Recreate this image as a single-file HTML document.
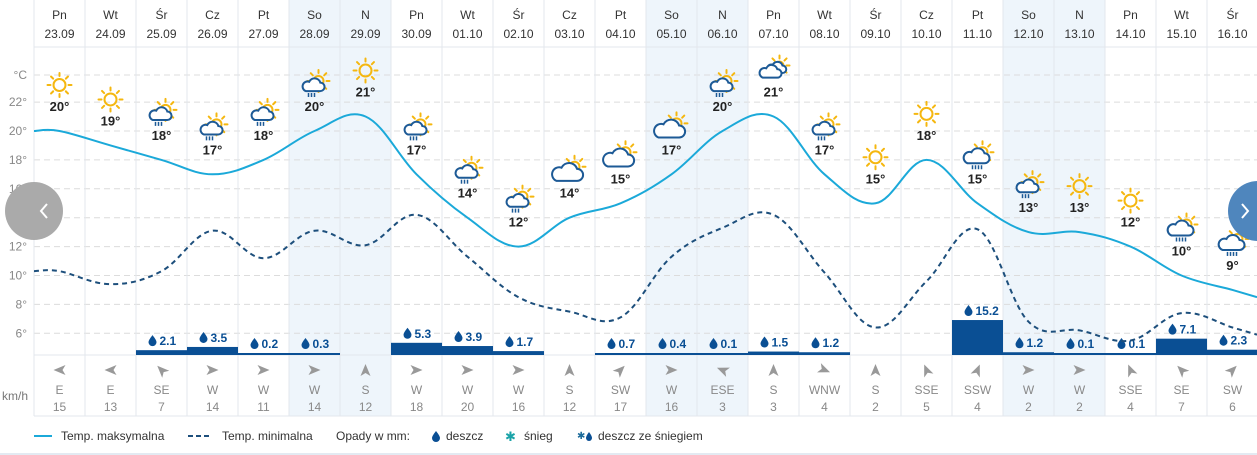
<!DOCTYPE html>
<html><head><meta charset="utf-8">
<style>
html,body{margin:0;padding:0;background:#fff;width:1257px;height:455px;overflow:hidden;font-family:"Liberation Sans",sans-serif;}
svg{display:block}
</style></head>
<body>
<svg id="chart" width="1257" height="455" xmlns="http://www.w3.org/2000/svg" font-family="Liberation Sans, sans-serif"></svg>
<script>
const dayNames=["Pn","Wt","Śr","Cz","Pt","So","N","Pn","Wt","Śr","Cz","Pt","So","N","Pn","Wt","Śr","Cz","Pt","So","N","Pn","Wt","Śr"];
const dates=["23.09","24.09","25.09","26.09","27.09","28.09","29.09","30.09","01.10","02.10","03.10","04.10","05.10","06.10","07.10","08.10","09.10","10.10","11.10","12.10","13.10","14.10","15.10","16.10"];
const maxTemps=[20,19,18,17,18,20,21,17,14,12,14,15,17,20,21,17,15,18,15,13,13,12,10,9];
const minTemps=[10.3,9.4,10.3,13.1,11.2,13.1,12.1,14.2,11.3,8.5,7.5,7.1,11.3,13.3,14.2,10.2,6.4,9.6,13.2,6.8,6.2,5.5,7.4,6.4];
const precip=[0,0,2.1,3.5,0.2,0.3,0,5.3,3.9,1.7,0,0.7,0.4,0.1,1.5,1.2,0,0,15.2,1.2,0.1,0.1,7.1,2.3];
const windDir=["E","E","SE","W","W","W","S","W","W","W","S","SW","W","ESE","S","WNW","S","SSE","SSW","W","W","SSE","SE","SW"];
const windSpeed=[15,13,7,14,11,14,12,18,20,16,12,17,16,3,3,4,2,5,4,2,2,4,7,6];
const icons=["sun","sun","rainsun","rainsun","rainsun","rainsun","sun","rainsun","rainsun","rainsun","cloudsun","cloudsun","cloudsun","rainsun","cloudssun","rainsun","sun","sun","heavysun","rainsun","sun","sun","heavysun","heavysun"];
const yTicks=[22,20,18,16,14,12,10,8,6];
const weekend=[5,6,12,13,19,20];

const NS="http://www.w3.org/2000/svg";
const svg=document.getElementById('chart');
const X0=34,STEP=51;
const cx=i=>X0+STEP*i+25.5;
const yT=t=>131-(t-20)*14.45;
const BASE=355;
function el(tag,attrs,parent){const e=document.createElementNS(NS,tag);for(const k in attrs)e.setAttribute(k,attrs[k]);(parent||svg).appendChild(e);return e;}
function txt(s,attrs,parent){const e=el('text',attrs,parent);e.textContent=s;return e;}

weekend.forEach(i=>{const r=el('rect',{x:X0+STEP*i,y:0,width:STEP,height:416,fill:'#eef5fb'});

});
yTicks.concat([24]).forEach(t=>{const y=t===24?75:yT(t);const l=el('line',{x1:X0,x2:1257,y1:y,y2:y,stroke:'#dcdcdc','stroke-dasharray':'6 4'});

});
yTicks.forEach(t=>{const e=txt(t+'°',{x:27,y:yT(t)+4,'text-anchor':'end','font-size':12,fill:'#888'});

});
const cu=txt('°C',{x:27,y:79,'text-anchor':'end','font-size':12,fill:'#888'});


for(let i=0;i<=24;i++){const l=el('line',{x1:X0+STEP*i,x2:X0+STEP*i,y1:0,y2:416,stroke:'#e3e7ec'});

}
el('line',{x1:X0,x2:1257,y1:47,y2:47,stroke:'#e3e7ec'});
el('line',{x1:X0,x2:1257,y1:355,y2:355,stroke:'#e3e7ec'});
el('line',{x1:X0,x2:1257,y1:416,y2:416,stroke:'#e3e7ec'});
dayNames.forEach((d,i)=>{
 const a=txt(d,{x:cx(i),y:19,'text-anchor':'middle','font-size':12,fill:'#333'});
 
 
 const b=txt(dates[i],{x:cx(i),y:38,'text-anchor':'middle','font-size':12,fill:'#333'});
 
 
});
function smooth(pts){let d='M'+pts[0][0]+','+pts[0][1];for(let i=0;i<pts.length-1;i++){const p0=pts[i-1]||pts[i],p1=pts[i],p2=pts[i+1],p3=pts[i+2]||p2;const t=0.18;
 const c1=[p1[0]+(p2[0]-p0[0])*t,p1[1]+(p2[1]-p0[1])*t],c2=[p2[0]-(p3[0]-p1[0])*t,p2[1]-(p3[1]-p1[1])*t];
 d+=' C'+c1[0].toFixed(1)+','+c1[1].toFixed(1)+' '+c2[0].toFixed(1)+','+c2[1].toFixed(1)+' '+p2[0].toFixed(1)+','+p2[1].toFixed(1);}return d;}
function series(arr){const p=arr.map((v,i)=>[cx(i),yT(v)]);p.unshift([X0,yT(arr[0])]);p.push([1257,yT(arr[arr.length-1]+(arr[arr.length-1]-arr[arr.length-2])*0.5)]);return p;}
precip.forEach((v,i)=>{if(!v)return;const h=Math.max(2,v*2.3);
 const r=el('rect',{x:X0+STEP*i,y:BASE-h,width:STEP,height:h,fill:'#0a4f94'});
 
 
 const g=el('g',{});
 
 
 const ty=BASE-h-5;
 el('path',{d:`M${cx(i)-9},${ty-10} q-4,5 -4,7 a4,4 0 0 0 8,0 q0,-2 -4,-7z`,fill:'#0a4f94'},g);
 txt(v.toFixed(1),{x:cx(i)-2,y:ty,'font-size':12,'font-weight':'bold',fill:'#0a4f94'},g);
});
const minP=el('path',{d:smooth(series(minTemps)),fill:'none',stroke:'#1d4f7c','stroke-width':2,'stroke-dasharray':'5 4'});


const maxP=el('path',{d:smooth(series(maxTemps)),fill:'none',stroke:'#1ba9d9','stroke-width':2});


function sun(g,x,y,r){const c='#f5b70f';el('circle',{cx:x,cy:y,r:r,fill:'none',stroke:c,'stroke-width':2},g);
 for(let k=0;k<8;k++){const a=k*Math.PI/4;el('line',{x1:x+Math.cos(a)*(r+3),y1:y+Math.sin(a)*(r+3),x2:x+Math.cos(a)*(r+6),y2:y+Math.sin(a)*(r+6),stroke:c,'stroke-width':2,'stroke-linecap':'round'},g);}}
function cloud(g,x,y,s){const cg=el('g',{transform:`translate(${x},${y}) scale(${s})`},g);
 el('path',{d:'M-9,6 H8 a5,5 0 0 0 0,-10 a7,7 0 0 0 -13,-1 a5.5,5.5 0 0 0 -4,11 z',fill:'#fff',stroke:'#1d5a96','stroke-width':2/s},cg);}
function drops(g,x,y,n){for(let k=0;k<n;k++)el('line',{x1:x-4+k*3,y1:y,x2:x-4+k*3,y2:y+4,stroke:'#1d5a96','stroke-width':1.5},g);}
icons.forEach((t,i)=>{const x=cx(i),yc=yT(maxTemps[i]);const iy=yc-46;
 const g=el('g',{});
 
 
 if(t==='sun')sun(g,x,iy,6);
 else if(t==='rainsun'){sun(g,x+4,iy-4,5);cloud(g,x-1,iy+1,0.85);drops(g,x-2,iy+8,3);}
 else if(t==='heavysun'){sun(g,x+5,iy-5,5);cloud(g,x-1,iy,1);drops(g,x-1,iy+8,4);}
 else if(t==='cloudsun'){sun(g,x+5,iy-5,5);cloud(g,x-2,iy+2,1.2);}
 else if(t==='cloudssun'){sun(g,x+6,iy-5,4);cloud(g,x+3,iy-2,0.75);cloud(g,x-3,iy+2,0.85);}
 const tl=txt(maxTemps[i]+'°',{x:x,y:yc-20,'text-anchor':'middle','font-size':13,'font-weight':'bold',fill:'#222'});
 
 
});
const dirDeg={N:0,NNE:22.5,NE:45,ENE:67.5,E:90,ESE:112.5,SE:135,SSE:157.5,S:180,SSW:202.5,SW:225,WSW:247.5,W:270,WNW:292.5,NW:315,NNW:337.5};
windDir.forEach((d,i)=>{const x=cx(i);
 const a=el('path',{d:`M${x-6},${370-5} L${x+6},370 L${x-6},${370+5} L${x-3},370 z`,fill:'#999',transform:`rotate(${dirDeg[d]-270} ${x} 370)`});
 
 
 const b=txt(d,{x:x,y:394,'text-anchor':'middle','font-size':12,fill:'#888'});
 
 
 const c=txt(windSpeed[i],{x:x,y:411,'text-anchor':'middle','font-size':12,fill:'#888'});
 
 
});
const kmh=txt('km/h',{x:2,y:400,'font-size':12,fill:'#777'});


const pb=el('g',{style:'cursor:pointer'});


el('circle',{cx:34,cy:211,r:29,fill:'#aaa'},pb);
el('path',{d:'M47,204 L41,211 L47,218',fill:'none',stroke:'#fff','stroke-width':2},pb);
const nb=el('g',{style:'cursor:pointer'});


el('circle',{cx:1258,cy:211,r:30,fill:'#4f86bd'},nb);
el('path',{d:'M1242,204 L1248,211 L1242,218',fill:'none',stroke:'#fff','stroke-width':2},nb);
const lg=el('g',{});


el('line',{x1:34,x2:52,y1:436,y2:436,stroke:'#1ba9d9','stroke-width':2},lg);
txt('Temp. maksymalna',{x:61,y:440,'font-size':12,fill:'#333'},lg);
el('line',{x1:188,x2:209,y1:436,y2:436,stroke:'#1d4f7c','stroke-width':2,'stroke-dasharray':'5 3'},lg);
txt('Temp. minimalna',{x:222,y:440,'font-size':12,fill:'#333'},lg);
txt('Opady w mm:',{x:336,y:440,'font-size':12,fill:'#333'},lg);
el('path',{d:'M436,431 q-4,5 -4,7 a4,4 0 0 0 8,0 q0,-2 -4,-7z',fill:'#0a4f94'},lg);
txt('deszcz',{x:446,y:440,'font-size':12,fill:'#333'},lg);
txt('✱',{x:505,y:441,'font-size':13,fill:'#1aa3a8'},lg);
txt('śnieg',{x:524,y:440,'font-size':12,fill:'#333'},lg);
txt('✱',{x:577,y:439,'font-size':10,fill:'#1a6a9a'},lg);
el('path',{d:'M589,432 q-3,4 -3,6 a3,3 0 0 0 6,0 q0,-2 -3,-6z',fill:'#0a4f94'},lg);
txt('deszcz ze śniegiem',{x:598,y:440,'font-size':12,fill:'#333'},lg);
el('line',{x1:0,x2:1257,y1:454,y2:454,stroke:'#e3eaf2','stroke-width':2});
</script>
</body></html>
